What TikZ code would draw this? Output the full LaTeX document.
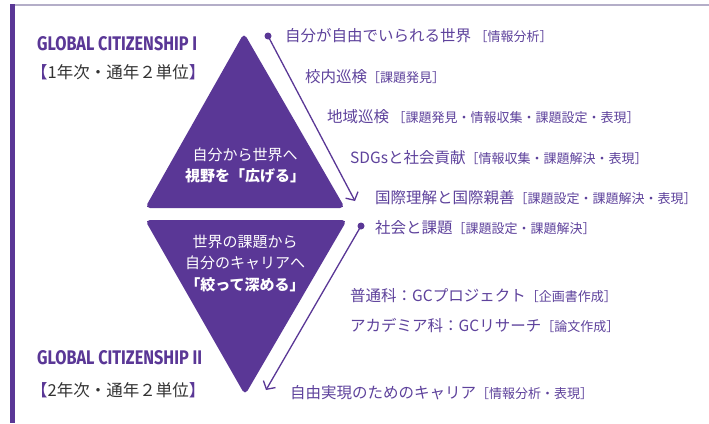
\documentclass[tikz,border=0pt]{standalone}
\usepackage{fontspec}
\setmainfont{Noto Sans CJK JP}
\newfontfamily\gcfont{Fira Sans}
\usetikzlibrary{arrows.meta}
\definecolor{gcpurple}{HTML}{5A3796}
\definecolor{gctext}{HTML}{5E429C}
\definecolor{gcgray}{HTML}{B4AEC8}
\definecolor{gcdark}{HTML}{333333}
\newcommand\bktag[1]{{\fontsize{13}{13}\selectfont ［#1］}}
\tikzset{
  item/.style={anchor=west, text=gctext, inner sep=0pt, font=\fontsize{15.5}{15.5}\selectfont},
  tritext/.style={text=white, inner sep=0pt, font=\fontsize{15}{15}\selectfont},
  tribold/.style={text=white, inner sep=0pt, font=\fontsize{15}{15}\selectfont\bfseries},
  gclabel/.style={anchor=west, text=gcpurple, inner sep=0pt, font=\gcfont\bfseries},
  yearlabel/.style={anchor=west, text=gcdark, inner sep=0pt, font=\fontsize{16.5}{16.5}\selectfont},
  dotnode/.style={circle, fill=gcpurple, inner sep=0pt, minimum size=7pt},
  flow/.style={draw=gcpurple, line width=1.3pt, -{Straight Barb[length=6pt,width=14pt,line width=1.3pt]}},
  tri/.style={fill=gcpurple, rounded corners=5pt}
}
\begin{document}
\begin{tikzpicture}[x=1pt,y=-1pt]
\useasboundingbox (0,0) rectangle (709,423);
\fill[white] (0,0) rectangle (709,423);
% frame
\draw[gcgray, line width=2pt] (10,4.5) -- (709,4.5);
\fill[gcpurple] (10,4) rectangle (15,423);
% triangles
\fill[tri] (244,33) -- (345,208) -- (145,208) -- cycle;
\fill[tri] (145,220) -- (347,220) -- (245,395) -- cycle;
% triangle texts
\node[tritext] (u1) at (245,155) {自分から世界へ};
\node[tribold] (u2) at (245,176) {視野を「広げる」};
\node[tritext] (l1) at (245,242) {世界の課題から};
\node[tritext] (l2) at (245,263) {自分のキャリアへ};
\node[tribold] (l3) at (245,285) {「絞って深める」};
% left labels
\node[gclabel] (g1) at (37,44) {\resizebox{160pt}{14pt}{GLOBAL CITIZENSHIP I}};
\node[yearlabel] (y1) at (31,72) {\textcolor{gcpurple}{【}1年次・通年２単位\textcolor{gcpurple}{】}};
\node[gclabel] (g2) at (37,358) {\resizebox{165pt}{14pt}{GLOBAL CITIZENSHIP II}};
\node[yearlabel] (y2) at (31,390) {\textcolor{gcpurple}{【}2年次・通年２単位\textcolor{gcpurple}{】}};
% items
\node[item] (i1) at (285,36) {自分が自由でいられる世界 \bktag{情報分析}};
\node[item] (i2) at (305,77) {校内巡検\bktag{課題発見}};
\node[item] (i3) at (327,117) {地域巡検 \bktag{課題発見・情報収集・課題設定・表現}};
\node[item] (i4) at (350,158) {SDGsと社会貢献\bktag{情報収集・課題解決・表現}};
\node[item] (i5) at (375,198) {国際理解と国際親善\bktag{課題設定・課題解決・表現}};
\node[item] (i6) at (375,228) {社会と課題\bktag{課題設定・課題解決}};
\node[item] (i7) at (350,296) {普通科：GCプロジェクト\bktag{企画書作成}};
\node[item] (i8) at (350,325) {アカデミア科：GCリサーチ\bktag{論文作成}};
\node[item] (i9) at (290,393) {自由実現のためのキャリア\bktag{情報分析・表現}};
% arrows
\node[dotnode] (d1) at (268,36) {};
\coordinate (e1) at (355,201);
\draw[flow] (d1.center) -- (e1);
\node[dotnode] (d2) at (361,226) {};
\coordinate (e2) at (266,390);
\draw[flow] (d2.center) -- (e2);
\end{tikzpicture}
\end{document}
